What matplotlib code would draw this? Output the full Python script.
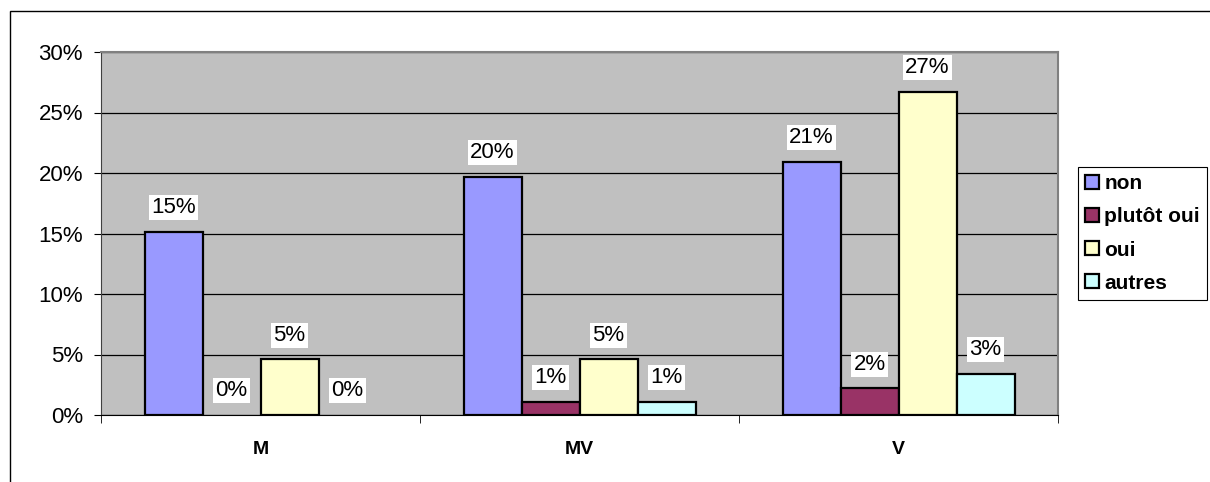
import matplotlib.pyplot as plt
import numpy as np
from matplotlib.patches import Rectangle

plt.rcParams['font.family'] = ['Liberation Sans', 'DejaVu Sans']

categories = ['M', 'MV', 'V']
series = ['non', 'plutôt oui', 'oui', 'autres']
values = {
    'non': [15.1, 19.7, 20.9],
    'plutôt oui': [0.0, 1.1, 2.2],
    'oui': [4.6, 4.6, 26.7],
    'autres': [0.0, 1.1, 3.4],
}
labels = {
    'non': ['15%', '20%', '21%'],
    'plutôt oui': ['0%', '1%', '2%'],
    'oui': ['5%', '5%', '27%'],
    'autres': ['0%', '1%', '3%'],
}
colors = ['#9999FF', '#993366', '#FFFFCC', '#CCFFFF']

fig = plt.figure(figsize=(12.1, 4.82), dpi=100)
ax = fig.add_axes([101 / 1210, 1 - 415 / 482, 957 / 1210, 363 / 482])

# outer chart border
fig.patches.append(Rectangle((10 / 1210, -0.1), 1.2, 1 - 11 / 482 + 0.1,
                             transform=fig.transFigure, fill=False,
                             edgecolor='black', linewidth=1.0))

x = np.arange(len(categories))
w = 1 / 5.5
for i, s in enumerate(series):
    pos = x + (i - 1.5) * w
    vals = values[s]
    bars = ax.bar(pos, vals, width=w, color=colors[i],
                  edgecolor=['black' if v > 0 else 'none' for v in vals],
                  linewidth=1.6, label=s, zorder=3)
    for b, lab in zip(bars, labels[s]):
        ax.annotate(lab, (b.get_x() + b.get_width() / 2, b.get_height()),
                    xytext=(0, 17.5), textcoords='offset points',
                    ha='center', va='center', fontsize=16,
                    bbox=dict(facecolor='white', edgecolor='none', pad=1.5),
                    zorder=4)

ax.set_facecolor('#C0C0C0')
ax.set_xlim(-0.5, 2.5)
ax.set_ylim(0, 30)
ax.set_yticks(np.arange(0, 31, 5))
ax.set_yticklabels([f'{v}%' for v in range(0, 31, 5)], fontsize=16)
ax.yaxis.grid(True, color='black', linewidth=0.9)
ax.set_axisbelow(True)

ax.set_xticks(x)
ax.set_xticklabels(categories, fontsize=14, fontweight='bold')
ax.tick_params(axis='x', length=0, pad=19)
ax.set_xticks([-0.5, 0.5, 1.5, 2.5], minor=True)
ax.tick_params(axis='x', which='minor', length=6, color='black')
ax.tick_params(axis='y', length=5, color='black', pad=8)

for side in ['top', 'right']:
    ax.spines[side].set_color('#808080')
    ax.spines[side].set_linewidth(1.5)
ax.spines['left'].set_color('#404040')
ax.spines['bottom'].set_color('black')

leg = ax.legend(loc='center left', bbox_to_anchor=(1.021, 0.5),
                fancybox=False, edgecolor='black', framealpha=1,
                prop={'weight': 'bold', 'size': 15},
                handlelength=0.65, handleheight=0.65, handletextpad=0.25,
                labelspacing=0.68, borderpad=0.35, borderaxespad=0)
leg.get_frame().set_linewidth(0.8)
for h in leg.legend_handles:
    h.set_edgecolor('black')

fig.savefig('out.png', dpi=100)
